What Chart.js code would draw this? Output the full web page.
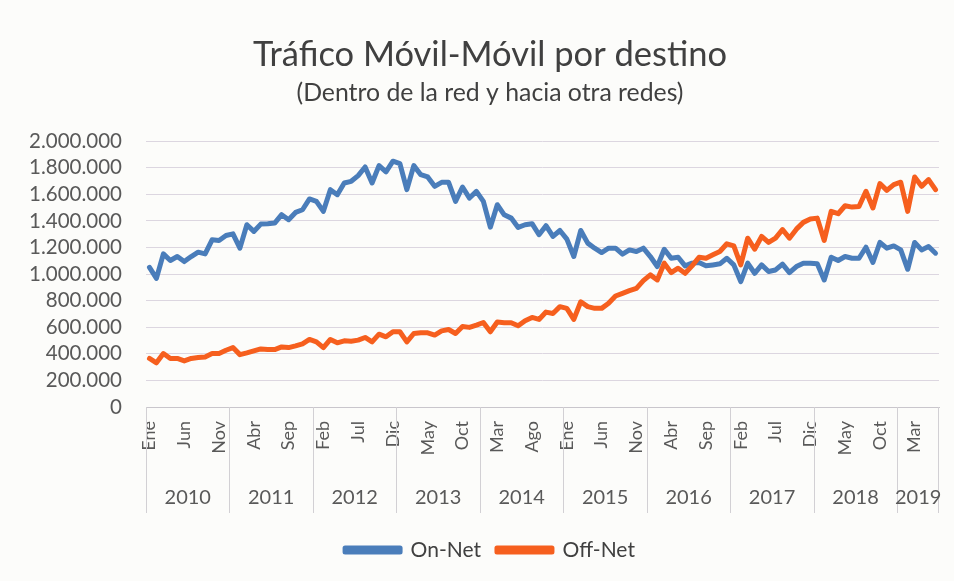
<!DOCTYPE html>
<html lang="es">
<head>
<meta charset="utf-8">
<title>Tráfico Móvil-Móvil por destino</title>
<script src="https://cdn.jsdelivr.net/npm/chart.js@4.4.1/dist/chart.umd.min.js"></script>
<style>
  html, body { margin: 0; padding: 0; background: #fcfcfa; }
  #wrap { position: relative; width: 954px; height: 581px; }
</style>
</head>
<body>
<div id="wrap"><canvas id="chart" width="954" height="581"></canvas></div>
<script>
// Monthly categories, Jan 2010 - Jun 2019
const monthNames = ['Ene', 'Feb', 'Mar', 'Abr', 'May', 'Jun', 'Jul', 'Ago', 'Sep', 'Oct', 'Nov', 'Dic'];
const years = ['2010', '2011', '2012', '2013', '2014', '2015', '2016', '2017', '2018', '2019'];
const monthsInLastYear = 6;
const labelEvery = 5; // only every 5th month label is shown

// Y axis ticks
const yMin = 0;
const yMax = 2000000;
const yStep = 200000;

// Series values
const onNet = [
  1050000, 968000, 1152000, 1102000, 1132000, 1094000, 1132000, 1165000, 1152000, 1258000, 1253000, 1290000,
  1303000, 1195000, 1371000, 1321000, 1376000, 1379000, 1384000, 1447000, 1409000, 1464000, 1484000, 1565000,
  1547000, 1472000, 1635000, 1597000, 1685000, 1698000, 1741000, 1806000, 1685000, 1816000, 1769000, 1849000,
  1831000, 1635000, 1816000, 1748000, 1731000, 1660000, 1690000, 1690000, 1547000, 1655000, 1572000, 1622000,
  1547000, 1353000, 1522000, 1446000, 1421000, 1351000, 1371000, 1379000, 1296000, 1364000, 1283000, 1328000,
  1263000, 1132000, 1328000, 1233000, 1195000, 1162000, 1195000, 1195000, 1150000, 1182000, 1170000, 1195000,
  1132000, 1057000, 1187000, 1119000, 1127000, 1062000, 1082000, 1087000, 1062000, 1069000, 1077000, 1119000,
  1069000, 943000, 1082000, 1006000, 1069000, 1019000, 1031000, 1075000, 1011000, 1057000, 1082000, 1082000,
  1077000, 956000, 1127000, 1102000, 1132000, 1119000, 1119000, 1202000, 1087000, 1238000, 1195000, 1212000,
  1182000, 1036000, 1238000, 1182000, 1207000, 1157000
];
const offNet = [
  365000, 332000, 402000, 365000, 365000, 347000, 365000, 372000, 377000, 402000, 402000, 427000,
  447000, 394000, 407000, 422000, 437000, 432000, 432000, 452000, 447000, 460000, 475000, 508000,
  490000, 447000, 508000, 483000, 498000, 495000, 503000, 523000, 490000, 548000, 528000, 566000,
  566000, 490000, 553000, 558000, 558000, 541000, 573000, 583000, 553000, 605000, 599000, 616000,
  636000, 566000, 639000, 634000, 634000, 611000, 649000, 674000, 659000, 714000, 704000, 755000,
  742000, 659000, 792000, 755000, 742000, 742000, 780000, 835000, 855000, 875000, 893000, 951000,
  994000, 956000, 1082000, 1011000, 1044000, 1006000, 1062000, 1127000, 1119000, 1145000, 1170000, 1228000,
  1212000, 1069000, 1270000, 1187000, 1283000, 1238000, 1270000, 1335000, 1270000, 1338000, 1389000, 1414000,
  1421000, 1253000, 1472000, 1454000, 1514000, 1504000, 1509000, 1623000, 1497000, 1681000, 1630000, 1673000,
  1691000, 1472000, 1731000, 1660000, 1711000, 1635000
];

const FONT = "Lato, 'Open Sans', sans-serif";
const TEXT = '#595959';
const BLUE = '#4a7dba';
const ORANGE = '#f65f1e';

const monthCount = (years.length - 1) * 12 + monthsInLastYear;
const labels = [];
for (let i = 0; i < monthCount; i++) {
  labels.push(monthNames[i % 12]);
}

function formatThousands(v) {
  return String(v).replace(/\B(?=(\d{3})+(?!\d))/g, '.');
}

// Second row of the category axis: year names with separators
const yearRowPlugin = {
  id: 'yearRow',
  afterDraw(chart) {
    const { ctx, chartArea } = chart;
    const x = chart.scales.x;
    const step = x.getPixelForValue(1) - x.getPixelForValue(0);
    const top = chartArea.bottom;
    const bottom = top + 106;
    ctx.save();
    ctx.strokeStyle = '#d2d0d4';
    ctx.lineWidth = 1;
    ctx.fillStyle = TEXT;
    ctx.font = '20px ' + FONT;
    ctx.textAlign = 'center';
    ctx.textBaseline = 'middle';
    years.forEach((yr, k) => {
      const first = k * 12;
      const last = Math.min(first + 11, monthCount - 1);
      const left = x.getPixelForValue(first) - step / 2;
      const right = x.getPixelForValue(last) + step / 2;
      ctx.beginPath();
      ctx.moveTo(Math.round(left) + 0.5, top);
      ctx.lineTo(Math.round(left) + 0.5, bottom);
      if (k === years.length - 1) {
        ctx.moveTo(Math.round(right) - 0.5, top);
        ctx.lineTo(Math.round(right) - 0.5, bottom);
      }
      ctx.stroke();
      ctx.fillText(yr, (left + right) / 2, top + 91);
    });
    ctx.restore();
  }
};

const ctx = document.getElementById('chart').getContext('2d');
new Chart(ctx, {
  type: 'line',
  data: {
    labels: labels,
    datasets: [
      {
        label: 'On-Net',
        data: onNet,
        borderColor: BLUE,
        backgroundColor: BLUE,
        borderWidth: 5,
        pointRadius: 0,
        tension: 0,
        borderJoinStyle: 'round',
        borderCapStyle: 'round',
        order: 1
      },
      {
        label: 'Off-Net',
        data: offNet,
        borderColor: ORANGE,
        backgroundColor: ORANGE,
        borderWidth: 5,
        pointRadius: 0,
        tension: 0,
        borderJoinStyle: 'round',
        borderCapStyle: 'round',
        order: 0
      }
    ]
  },
  options: {
    responsive: false,
    animation: false,
    // negative right padding shifts the title/legend centre to match; the x scale restores the plot edge
    layout: { padding: { left: 20, right: -6, top: 0, bottom: 10.5 } },
    plugins: {
      title: {
        display: true,
        text: 'Tráfico Móvil-Móvil por destino',
        color: '#404040',
        font: { family: FONT, size: 34.5, weight: 'normal' },
        padding: { top: 34, bottom: 0 }
      },
      subtitle: {
        display: true,
        text: '(Dentro de la red y hacia otra redes)',
        color: '#404040',
        font: { family: FONT, size: 24.8, weight: 'normal' },
        padding: { top: 3, bottom: 33 }
      },
      legend: {
        position: 'bottom',
        labels: {
          color: '#404040',
          font: { family: FONT, size: 21 },
          boxWidth: 55,
          boxHeight: 4,
          padding: 16,
          sort: (a, b) => a.datasetIndex - b.datasetIndex
        }
      },
      tooltip: { enabled: false }
    },
    scales: {
      x: {
        offset: true,
        grid: { display: false, drawTicks: false },
        border: { display: true, color: '#c9c6cc', width: 1 },
        ticks: {
          autoSkip: false,
          maxRotation: 90,
          minRotation: 90,
          padding: 14,
          color: TEXT,
          font: { family: FONT, size: 18 },
          callback: (value, index) => (index % labelEvery === 0 ? labels[index] : '')
        },
        afterFit: (scale) => {
          scale.height = 116.5;
          scale.paddingLeft = 0;
          scale.paddingRight = 15;
        }
      },
      y: {
        min: yMin,
        max: yMax,
        grid: { color: '#dcd6e0', lineWidth: 1, drawTicks: false },
        border: { display: false },
        ticks: {
          stepSize: yStep,
          autoSkip: false,
          padding: 24,
          color: TEXT,
          font: { family: FONT, size: 20.5, lineHeight: 1 },
          callback: (v) => formatThousands(v)
        },
        afterFit: (scale) => { scale.width = 126; }
      }
    }
  },
  plugins: [yearRowPlugin]
});
</script>
</body>
</html>
